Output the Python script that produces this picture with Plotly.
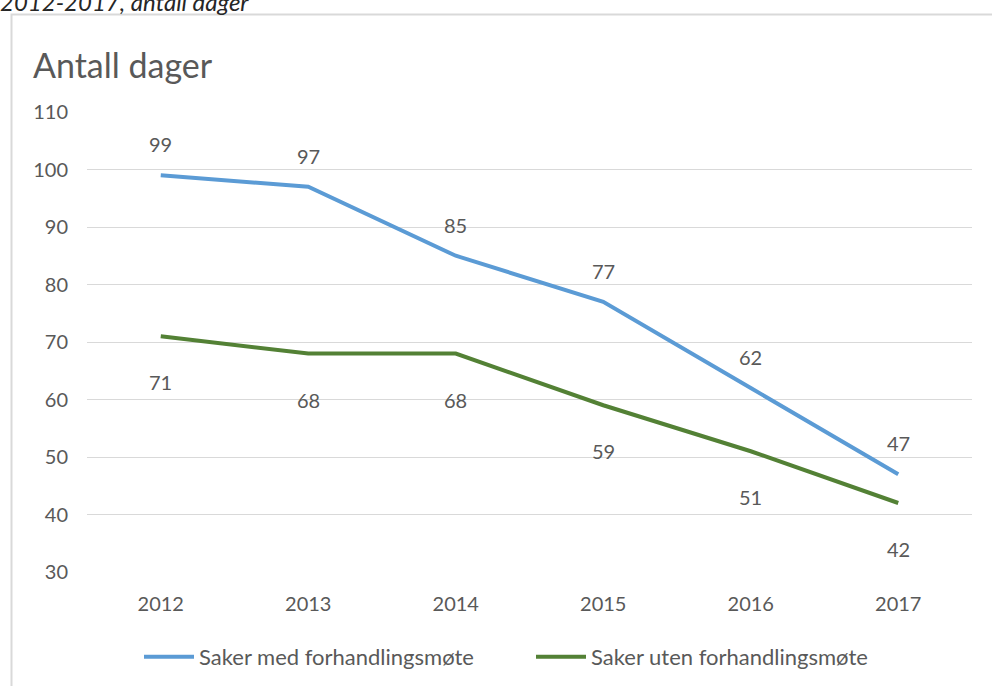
import plotly.graph_objects as go

years = [2012, 2013, 2014, 2015, 2016, 2017]
year_labels = ["2012", "2013", "2014", "2015", "2016", "2017"]
med_forhandling = [99, 97, 85, 77, 62, 47]
uten_forhandling = [71, 68, 68, 59, 51, 42]
series_names = ["Saker med forhandlingsmøte", "Saker uten forhandlingsmøte"]
y_ticks = [30, 40, 50, 60, 70, 80, 90, 100, 110]

W, H = 992, 686
FONT = "Lato, 'Open Sans', sans-serif"
TXT = "#595959"

def px(x):
    return x / W

def py(y):
    return 1 - y / H

fig = go.Figure()
fig.add_trace(go.Scatter(x=years, y=med_forhandling, mode="lines", name=series_names[0],
                         line=dict(color="#5B9BD5", width=4)))
fig.add_trace(go.Scatter(x=years, y=uten_forhandling, mode="lines", name=series_names[1],
                         line=dict(color="#538135", width=4)))

annotations = []
for x, v in zip(years, med_forhandling):
    annotations.append(dict(x=x, y=v, xref="x", yref="y", text=str(v), showarrow=False,
                            yshift=31, font=dict(size=20, color=TXT, family=FONT)))
for x, v in zip(years, uten_forhandling):
    annotations.append(dict(x=x, y=v, xref="x", yref="y", text=str(v), showarrow=False,
                            yshift=-46, font=dict(size=20, color=TXT, family=FONT)))

annotations.append(dict(x=px(31), y=py(65), xref="paper", yref="paper", text="Antall dager",
                        showarrow=False, xanchor="left", yanchor="middle",
                        font=dict(size=34, color=TXT, family=FONT)))
annotations.append(dict(x=px(-2), y=py(18), xref="paper", yref="paper", text="<i>2012-2017, antall dager</i>",
                        showarrow=False, xanchor="left", yanchor="bottom",
                        font=dict(size=24, color="#262626", family=FONT)))

fig.update_layout(
    width=W, height=H, autosize=False,
    margin=dict(l=0, r=0, t=0, b=0, pad=0),
    paper_bgcolor="white", plot_bgcolor="white",
    font=dict(family=FONT, color=TXT, size=20),
    xaxis=dict(domain=[px(87), px(972)], range=[2011.5, 2017.5], tickvals=years, ticktext=year_labels,
               showgrid=False, zeroline=False, automargin=False, ticklabelstandoff=18,
               showline=False, ticks="", tickfont=dict(size=20, color=TXT)),
    yaxis=dict(domain=[py(572), py(112)], range=[30, 110], tickvals=y_ticks,
               showgrid=True, gridcolor="#d9d9d9", gridwidth=1, zeroline=False, automargin=False,
               ticklabelstandoff=18,
               showline=False, ticks="", tickfont=dict(size=20, color=TXT)),
    showlegend=True,
    legend=dict(orientation="h", x=px(531), xanchor="center", y=py(657), yanchor="middle",
                font=dict(size=22, color=TXT, family=FONT), itemwidth=50, entrywidth=327),
    annotations=annotations,
    shapes=[dict(type="rect", xref="paper", yref="paper", x0=px(11.5), x1=1.2, y0=-0.2, y1=py(14.5),
                 line=dict(color="#d9d9d9", width=2), layer="below")],
)
fig.write_html("out.html", config={"displayModeBar": False},
               post_script="document.body.style.margin='0';document.body.style.overflow='hidden';")
